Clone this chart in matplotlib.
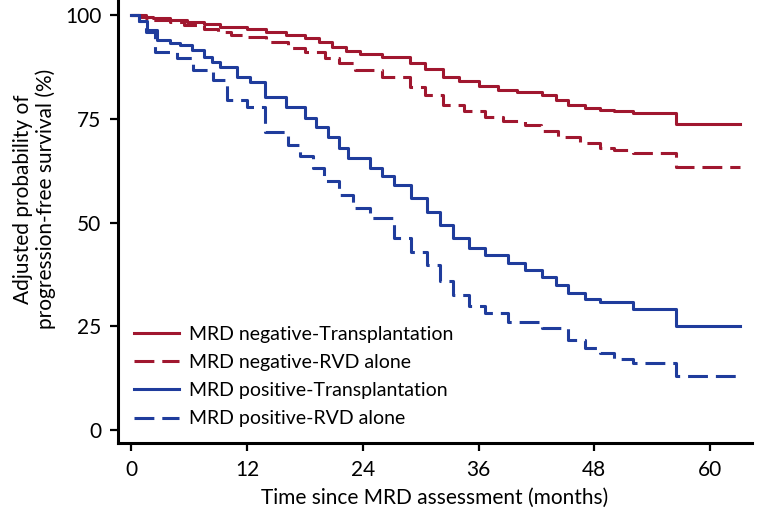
import matplotlib
matplotlib.use("Agg")
import matplotlib.pyplot as plt

# ---- data (months, adjusted PFS %) ----
t_neg_tx = [0, 1, 2.3, 4, 5.8, 7.5, 9.2, 12, 14, 16, 18, 19.5, 20.8, 22.3, 23.7, 26, 28.9, 30.5,
            32.3, 34, 36, 38, 40, 42.6, 44, 45.3, 47, 48.6, 50, 52, 56.5, 63.1]
v_neg_tx = [100, 99.6, 99.3, 98.8, 98.3, 97.7, 97.1, 96.6, 95.9, 95.2, 94.5, 93.4, 92.3, 91.4, 90.6,
            89.8, 88.4, 87, 85.1, 84, 83, 82, 81.4, 80.7, 79.5, 78.3, 77.6, 77.1, 76.8, 76.4, 73.7, 73.7]

t_neg_rvd = [0, 1.5, 2.3, 4, 5.5, 7.5, 9, 10.3, 12, 14, 16.3, 18, 20.1, 21.5, 23.2, 26, 28.9, 30.5,
             32.3, 34.5, 36.7, 38.5, 40.8, 42.5, 44.2, 46.5, 48.6, 50, 52, 56.5, 63.1]
v_neg_rvd = [100, 99.3, 98.8, 98.2, 97.6, 96.6, 96, 95.2, 94.7, 93.5, 92, 91, 89.6, 88.4, 86.7, 85,
             82.7, 80.8, 78.3, 76.8, 75.4, 74.5, 73.5, 72, 70.6, 69.2, 68, 67.4, 66.7, 63.4, 63.4]

t_pos_tx = [0, 0.8, 1.6, 2.7, 4, 5.1, 6.3, 7.5, 8.4, 9.2, 11, 12.3, 13.9, 16, 18, 19.2, 20.4, 21.5,
            22.5, 24.8, 26, 27.2, 29, 30.7, 32, 33.4, 35, 36.7, 39.1, 40.8, 42.6, 44, 45.3, 47, 48.6,
            52, 56.5, 63.1]
v_pos_tx = [100, 98.5, 96.4, 94, 93.2, 92.8, 91.5, 89.9, 88.6, 87.5, 85.1, 83.9, 80.2, 77.8, 75.2,
            73, 70.6, 68, 65.5, 63.1, 61.3, 59, 56, 52.5, 49.3, 46.3, 43.8, 42.2, 40.2, 38.5, 36.9,
            35, 33, 31.5, 30.8, 29.2, 25.1, 25.1]

t_pos_rvd = [0, 0.8, 1.5, 2.5, 4.8, 6.4, 8.5, 9.9, 12, 13.9, 16.3, 17.5, 18.8, 20, 21.5, 23, 24.8,
             27.2, 29, 30.7, 32, 33.4, 35, 36.7, 39.1, 42.6, 45.3, 47, 48.6, 50, 52, 56.5, 63.1]
v_pos_rvd = [100, 98.5, 96, 91.1, 89.6, 86.7, 84.3, 79.5, 77.8, 71.8, 68.7, 66, 63.1, 60, 56.6,
             53.5, 51.1, 46.3, 43, 39.8, 36, 32.5, 30, 28.2, 26, 24.6, 21.7, 19.8, 18.6, 17.2,
             16.1, 13, 13]

labels = ["MRD negative-Transplantation", "MRD negative-RVD alone",
          "MRD positive-Transplantation", "MRD positive-RVD alone"]
x_ticks = [0, 12, 24, 36, 48, 60]
y_ticks = [0, 25, 50, 75, 100]

RED = "#A0172F"
BLUE = "#1F3C9C"

plt.rcParams['font.family'] = ['Lato', 'DejaVu Sans']

fig = plt.figure(figsize=(7.62, 5.28), dpi=100)
ax = fig.add_axes([0.155, 0.161, 0.832, 0.839])

lw = 2.2
dash = (0, (6.5, 2.6))
ax.step(t_neg_tx, v_neg_tx, where='post', color=RED, lw=lw, label=labels[0])
ax.step(t_neg_rvd, v_neg_rvd, where='post', color=RED, lw=lw, linestyle=dash, label=labels[1])
ax.step(t_pos_tx, v_pos_tx, where='post', color=BLUE, lw=lw, label=labels[2])
ax.step(t_pos_rvd, v_pos_rvd, where='post', color=BLUE, lw=lw, linestyle=dash, label=labels[3])

ax.set_xlim(-1.35, 64.35)
ax.set_ylim(-3.1, 103.6)
ax.set_xticks(x_ticks)
ax.set_yticks(y_ticks)
for s in ['top', 'right']:
    ax.spines[s].set_visible(False)
for s in ['left', 'bottom']:
    ax.spines[s].set_linewidth(2.2)
ax.tick_params(axis='both', direction='out', length=6, width=1.6, labelsize=15, pad=6)

ax.set_xlabel("Time since MRD assessment (months)", fontsize=15, labelpad=6)
ax.set_ylabel("Adjusted probability of\nprogression-free survival (%)", fontsize=15,
              linespacing=1.15)
ax.yaxis.set_label_coords(-0.098, 0.55)

leg = ax.legend(loc='lower left', bbox_to_anchor=(0.025, 0.035), frameon=False, fontsize=14,
                handlelength=2.3, handletextpad=0.52, labelspacing=0.58, borderpad=0,
                borderaxespad=0)

fig.savefig("out.png", dpi=100)
